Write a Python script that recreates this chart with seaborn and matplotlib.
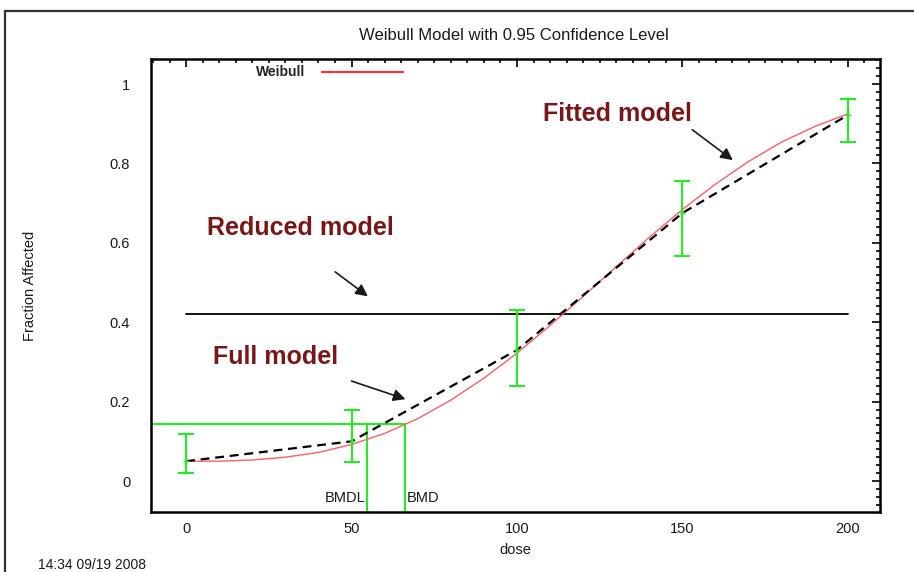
import matplotlib
matplotlib.use("Agg")
import matplotlib.pyplot as plt
from matplotlib.patches import Rectangle
from matplotlib.ticker import MultipleLocator
import numpy as np
import pandas as pd
import seaborn as sns

# Observed dose groups: mean response and 95% confidence limits
dose = [0, 50, 100, 150, 200]
observed = [0.05, 0.10, 0.33, 0.675, 0.922]
ci_lower = [0.02, 0.048, 0.24, 0.567, 0.854]
ci_upper = [0.118, 0.18, 0.43, 0.756, 0.962]

# Fitted Weibull curve
fit_dose = [0, 10, 20, 30, 40, 50, 60, 70, 80, 90, 100, 110, 120,
            130, 140, 150, 160, 170, 180, 190, 200]
fit_resp = [0.050, 0.050, 0.053, 0.060, 0.072, 0.092, 0.120, 0.157, 0.204,
            0.259, 0.322, 0.392, 0.465, 0.540, 0.614, 0.684, 0.748, 0.805,
            0.854, 0.893, 0.925]

# Reduced (constant) model
reduced_level = 0.42

# Benchmark dose results
bmr_level = 0.143
bmd = 66.2
bmdl = 54.8

sns.set_style("white")
plt.rcParams["font.family"] = ["Liberation Sans", "DejaVu Sans"]

fig = plt.figure(figsize=(9.14, 5.72), dpi=100)
ax = fig.add_axes([151 / 914, 1 - 512 / 572, 729 / 914, 453 / 572])

xlim = (-10.6, 209.7)
ylim = (-0.078, 1.063)
ax.set_xlim(*xlim)
ax.set_ylim(*ylim)

green = "#22ee22"
dark_red = "#7a1616"
text_color = "#1a1a1a"

# BMD / BMDL markers
ax.plot([xlim[0], bmd], [bmr_level, bmr_level], color=green, lw=1.5, zorder=2)
ax.plot([bmdl, bmdl], [ylim[0], bmr_level], color=green, lw=1.5, zorder=2)
ax.plot([bmd, bmd], [ylim[0], bmr_level], color=green, lw=1.5, zorder=2)
ax.text(bmdl - 0.6, -0.043, "BMDL", ha="right", va="center", fontsize=10.5,
        color=text_color)
ax.text(bmd + 0.6, -0.043, "BMD", ha="left", va="center", fontsize=10.5,
        color=text_color)

# Reduced model
ax.plot([0, 200], [reduced_level, reduced_level], color="black", lw=1.3, zorder=3)

# Fitted model
fit_df = pd.DataFrame({"dose": fit_dose, "resp": fit_resp})
sns.lineplot(data=fit_df, x="dose", y="resp", ax=ax, color="#ff6060", lw=1.0,
             zorder=4, label="_fit")

# Full model (connects observed means)
obs_df = pd.DataFrame({"dose": dose, "resp": observed})
sns.lineplot(data=obs_df, x="dose", y="resp", ax=ax, color="black", lw=1.6,
             dashes=False, zorder=5, label="_full")
ax.lines[-1].set_linestyle((0, (4, 2.6)))

# Error bars
yerr = [np.subtract(observed, ci_lower), np.subtract(ci_upper, observed)]
ax.errorbar(dose, observed, yerr=yerr, fmt="+", color=green, ecolor=green,
            elinewidth=1.5, capsize=6, capthick=1.5, markersize=4, zorder=6)

# Legend entry
ax.text(0.211, 0.971, "Weibull", transform=ax.transAxes, ha="right",
        va="center", fontsize=10, fontweight="bold", color="#222222")
ax.plot([0.235, 0.346], [0.971, 0.971], transform=ax.transAxes,
        color="#ff3030", lw=1.6)

# Annotations
ann_kw = dict(color=dark_red, fontsize=18, fontweight="bold", va="center",
              ha="left")
arrow_kw = dict(arrowstyle="-|>", color="#1a1a1a", lw=1.2, mutation_scale=18)
ax.text(107.9, 0.924, "Fitted model", **ann_kw)
ax.annotate("", xy=(165.9, 0.804), xytext=(152.3, 0.889), arrowprops=arrow_kw)
ax.text(6.3, 0.637, "Reduced model", **ann_kw)
ax.annotate("", xy=(55.6, 0.461), xytext=(44.4, 0.531), arrowprops=arrow_kw)
ax.text(8.2, 0.312, "Full model", **ann_kw)
ax.annotate("", xy=(67.1, 0.204), xytext=(49.2, 0.254), arrowprops=arrow_kw)

# Axes styling
ax.xaxis.set_major_locator(MultipleLocator(50))
ax.xaxis.set_minor_locator(MultipleLocator(5))
ax.yaxis.set_major_locator(MultipleLocator(0.2))
ax.yaxis.set_minor_locator(MultipleLocator(0.02))
ax.set_yticks([0, 0.2, 0.4, 0.6, 0.8, 1.0])
ax.set_yticklabels(["0", "0.2", "0.4", "0.6", "0.8", "1"])
ax.tick_params(which="both", direction="in", top=True, right=True,
               color="black", width=1.2)
ax.tick_params(which="major", length=6, labelsize=10.5, labelcolor=text_color)
ax.tick_params(which="minor", length=3)
ax.tick_params(axis="x", which="major", pad=7)
ax.tick_params(axis="y", which="major", pad=15)
for s in ax.spines.values():
    s.set_color("black")
    s.set_linewidth(1.8)

ax.set_xlabel("dose", fontsize=10.5, color=text_color)
ax.xaxis.set_label_coords(0.5, (512 - 543) / 453)
ax.set_ylabel("Fraction Affected", fontsize=10.5, color=text_color)
ax.yaxis.set_label_coords((37 - 151) / 729, 0.5)
fig.text(514 / 914, 1 - 35 / 572, "Weibull Model with 0.95 Confidence Level",
         ha="center", va="center", fontsize=12, color=text_color)
fig.text(38 / 914, 1 - 565 / 572, "14:34 09/19 2008", ha="left",
         va="center", fontsize=10, color=text_color)

# Outer frame
fig.patches.append(Rectangle((5 / 914, -0.05), 1.2, 1 - 11 / 572 + 0.05,
                             transform=fig.transFigure, fill=False,
                             edgecolor="#333333", lw=1.6))

fig.savefig("out.png", dpi=100)
